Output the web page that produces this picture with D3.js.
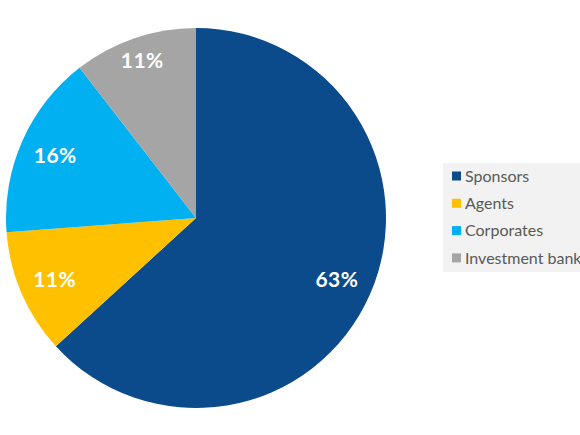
<!DOCTYPE html>
<html>
<head>
<meta charset="utf-8">
<script src="https://cdn.jsdelivr.net/npm/d3@7"></script>
<style>
  body { margin: 0; background: #fff; }
  svg { display: block; font-family: Lato, "Open Sans", sans-serif; }
</style>
</head>
<body>
<svg id="chart" width="580" height="435"></svg>
<script>
// data
const categories = ["Sponsors", "Agents", "Corporates", "Investment banks"];
const shares = [63.2, 10.6, 15.7, 10.5];
const labels = ["63%", "11%", "16%", "11%"];
const colors = ["#0b4a8b", "#ffc000", "#00b0f0", "#a5a5a5"];

const svg = d3.select("#chart");

const cx = 196, cy = 218, radius = 190;
// the grey label sits a bit further out than the others
const labelRadii = [154, 154, 154, 166];

const pie = d3.pie().sort(null).value(d => d.value);
const arc = d3.arc().innerRadius(0).outerRadius(radius);

const slices = pie(categories.map((c, i) => ({ name: c, value: shares[i], label: labels[i] })));

const g = svg.append("g").attr("transform", `translate(${cx},${cy})`);

g.selectAll(".slice")
  .data(slices)
  .enter()
  .append("path")
  .attr("class", "slice")
  .attr("d", arc)
  .attr("fill", (d, i) => colors[i]);

g.selectAll(".lbl")
  .data(slices)
  .enter()
  .append("text")
  .attr("class", "lbl")
  .attr("transform", (d, i) => {
    const r = labelRadii[i];
    return `translate(${d3.arc().innerRadius(r).outerRadius(r).centroid(d)})`;
  })
  .attr("text-anchor", "middle")
  .attr("dy", "0.35em")
  .attr("fill", "#fff")
  .attr("font-size", 21)
  .attr("font-weight", "bold")
  .attr("letter-spacing", 0.5)
  .text(d => d.data.label);

// legend
const legend = svg.append("g").attr("transform", "translate(443,163)");

legend.append("rect")
  .attr("width", 150)
  .attr("height", 109)
  .attr("fill", "#f2f2f2");

const rows = legend.selectAll(".row")
  .data(categories)
  .enter()
  .append("g")
  .attr("class", "row")
  .attr("transform", (d, i) => `translate(9,${13 + i * 27.3})`);

rows.append("rect")
  .attr("y", -4.5)
  .attr("width", 9)
  .attr("height", 9)
  .attr("fill", (d, i) => colors[i]);

rows.append("text")
  .attr("x", 13)
  .attr("dy", "0.35em")
  .attr("fill", "#595959")
  .attr("font-size", 16)
  .text(d => d);
</script>
</body>
</html>
